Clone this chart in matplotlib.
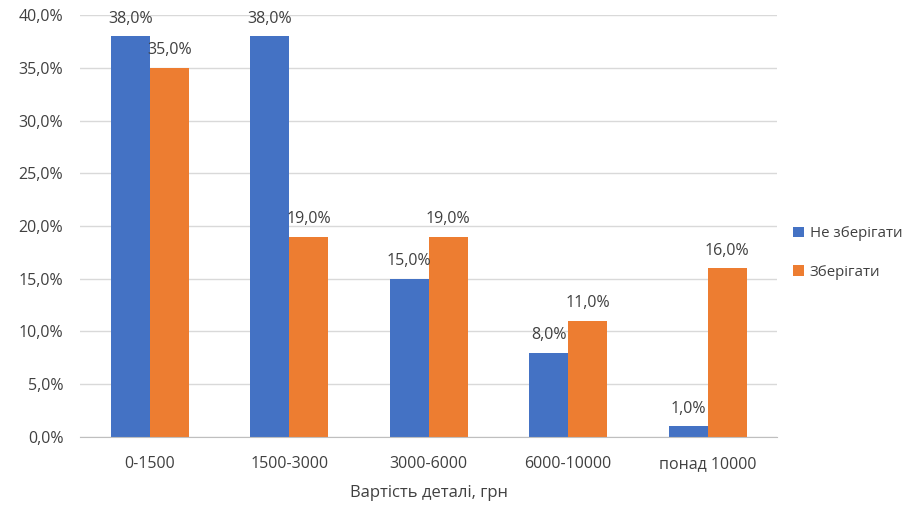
import matplotlib.pyplot as plt
import numpy as np

categories = ["0-1500", "1500-3000", "3000-6000", "6000-10000", "понад 10000"]
ne_zberihaty = [38.0, 38.0, 15.0, 8.0, 1.0]
zberihaty = [35.0, 19.0, 19.0, 11.0, 16.0]
yticks = [0, 5, 10, 15, 20, 25, 30, 35, 40]

plt.rcParams['font.family'] = ['Open Sans', 'DejaVu Sans']

fig = plt.figure(figsize=(9.06, 5.09), dpi=100)
ax = fig.add_axes([0.0883, 0.1415, 0.7697, 0.829])

x = np.arange(len(categories))
w = 0.28
b1 = ax.bar(x - w / 2, ne_zberihaty, w, color="#4472C4", label="Не зберігати", zorder=3)
b2 = ax.bar(x + w / 2, zberihaty, w, color="#ED7D31", label="Зберігати", zorder=3)

def fmt(v):
    return f"{v:.1f}%".replace(".", ",")

for bars, vals in ((b1, ne_zberihaty), (b2, zberihaty)):
    for r, v in zip(bars, vals):
        ax.text(r.get_x() + r.get_width() / 2, v + 0.9, fmt(v), ha="center", va="bottom",
                fontsize=11.5, color="#404040", zorder=4)

ax.set_xlim(-0.5, len(categories) - 0.5)
ax.set_ylim(0, 40)
ax.set_yticks(yticks)
ax.set_yticklabels([fmt(t) for t in yticks])
ax.set_xticks(x)
ax.set_xticklabels(categories)
ax.tick_params(length=0, labelsize=11.5, labelcolor="#404040")
ax.tick_params(axis="x", pad=14)
ax.tick_params(axis="y", pad=12)
ax.grid(axis="y", color="#D9D9D9", linewidth=1, zorder=0)
for s in ("top", "right", "left"):
    ax.spines[s].set_visible(False)
ax.spines["bottom"].set_color("#BFBFBF")
ax.spines["bottom"].set_zorder(5)
ax.set_xlabel("Вартість деталі, грн", fontsize=12, color="#404040", labelpad=9)

ax.legend(loc="center left", bbox_to_anchor=(1.008, 0.436), frameon=False, fontsize=10.8,
          handlelength=0.7, handleheight=0.7, handletextpad=0.4, labelspacing=1.55,
          borderpad=0.2, labelcolor="#404040")

fig.savefig("out.png", dpi=100)
